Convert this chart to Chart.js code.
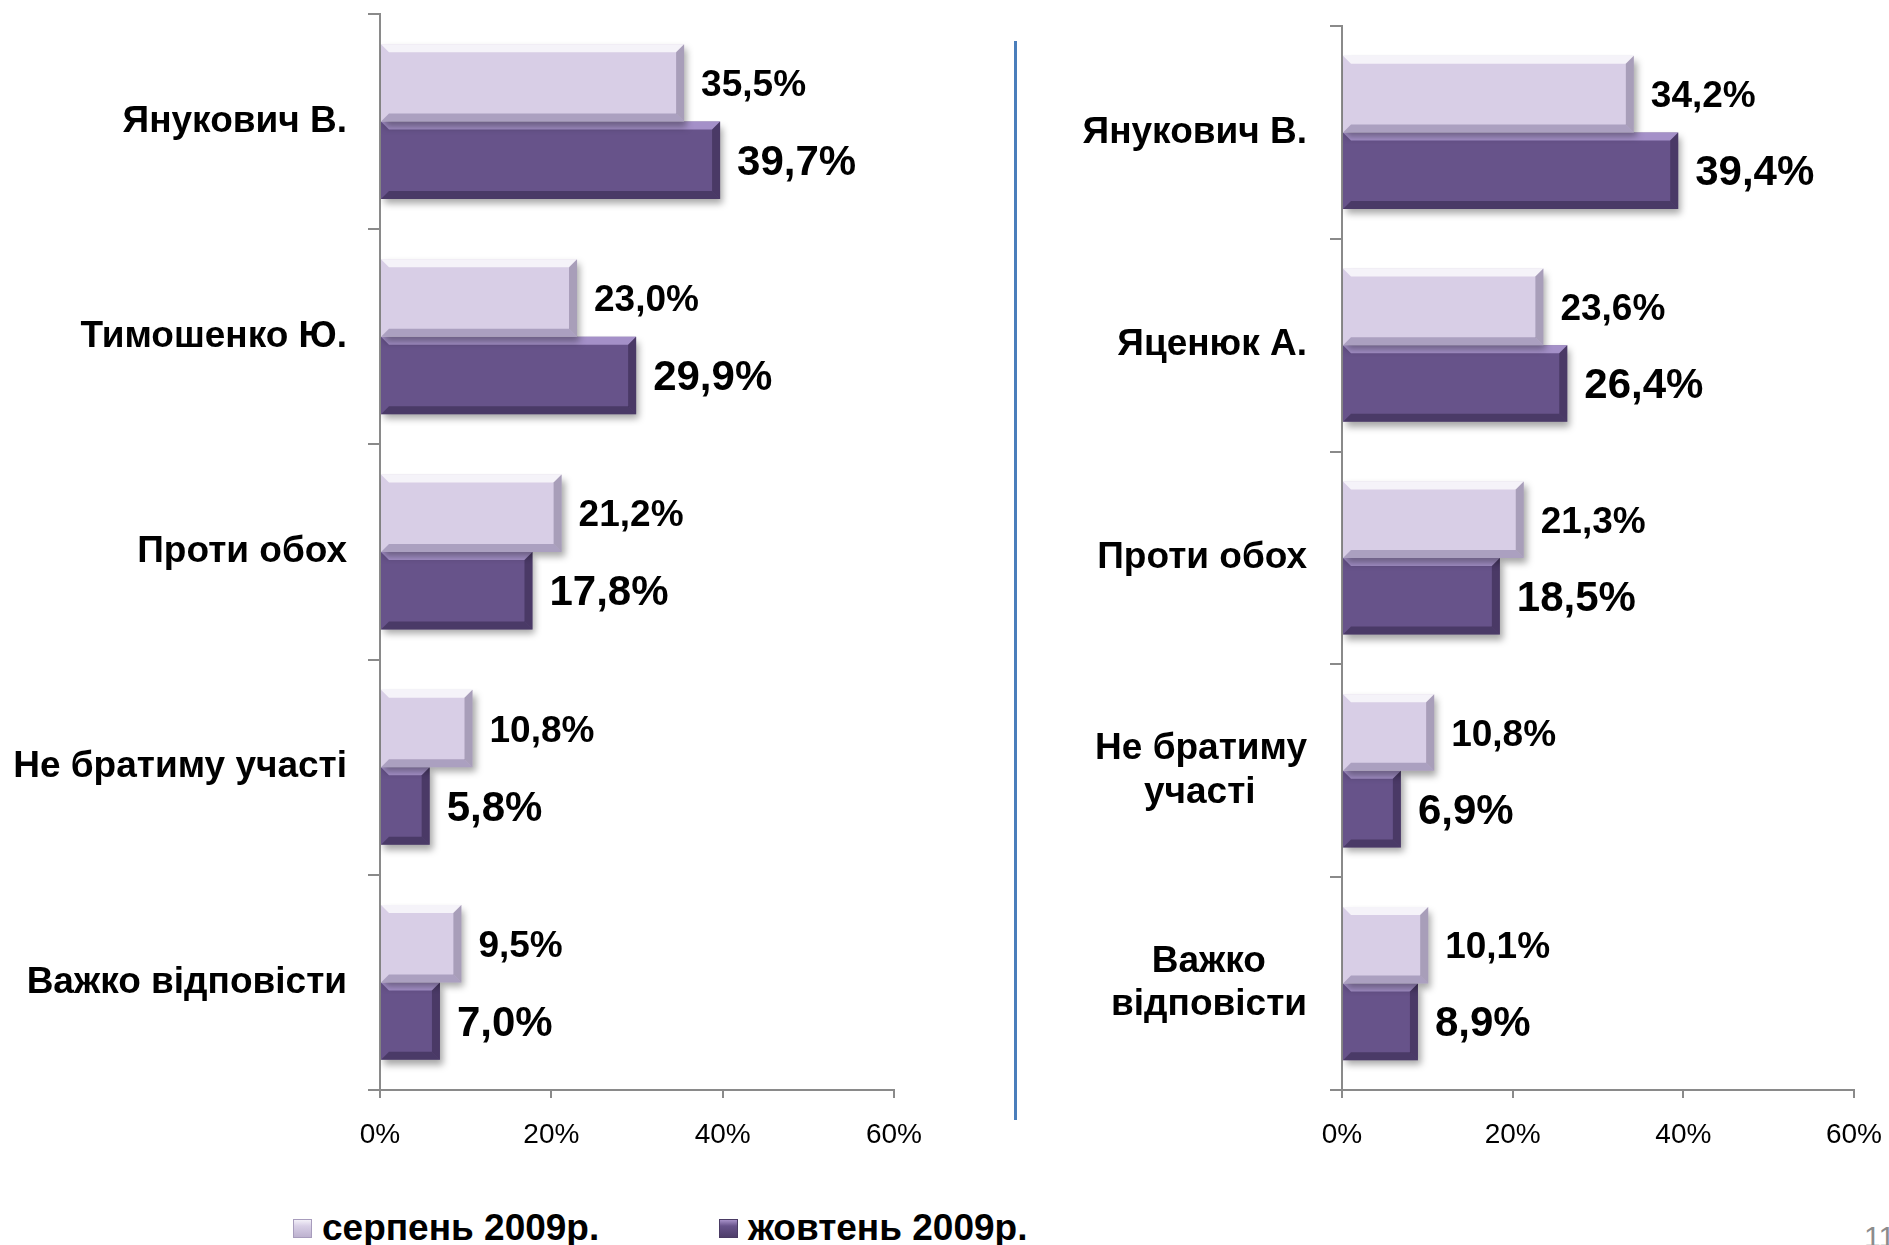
<!DOCTYPE html>
<html lang="uk">
<head>
<meta charset="utf-8">
<script src="https://cdn.jsdelivr.net/npm/chart.js@4.4.1/dist/chart.umd.min.js"></script>
<style>
  html, body { margin: 0; padding: 0; background: #fff; }
  body { width: 1889px; height: 1245px; overflow: hidden; position: relative;
         font-family: "Liberation Sans", Arial, sans-serif; }
  #leftBox  { position: absolute; left: 0;     top: 0; width: 940px; height: 1200px; }
  #rightBox { position: absolute; left: 960px; top: 0; width: 929px; height: 1200px; }
  .sep { position: absolute; left: 1014px; top: 41px; width: 3px; height: 1079px; background: #4a7ebb; }
  .leg { position: absolute; top: 1210px; display: flex; align-items: center;
         font-weight: bold; font-size: 37px; line-height: 36px; color: #000; }
  .leg .box { width: 19px; height: 19px; margin-right: 10px; box-sizing: border-box; }
  .leg .aug { background: linear-gradient(#f3f0f8, #d8cfe6 35%, #bdb2cf); border: 1px solid #a79cbc; }
  .leg .oct { background: linear-gradient(#a791c8, #68538b 35%, #4e3e6a); border: 1px solid #4a3b64; }
  .page { position: absolute; left: 1864px; top: 1220px; font-size: 30px; color: #8c8c8c; }
</style>
</head>
<body>
<div id="leftBox"><canvas id="chartLeft"></canvas></div>
<div class="sep"></div>
<div id="rightBox"><canvas id="chartRight"></canvas></div>
<div class="leg" style="left:293px"><span class="box aug"></span>серпень 2009р.</div>
<div class="leg" style="left:719px"><span class="box oct"></span>жовтень 2009р.</div>
<div class="page">11</div>
<script>
// data
var seriesNames = ["серпень 2009р.", "жовтень 2009р."];

var leftLabels = ["Янукович В.", "Тимошенко Ю.", "Проти обох", "Не братиму участі", "Важко відповісти"];
var leftAug = [35.5, 23.0, 21.2, 10.8, 9.5];
var leftOct = [39.7, 29.9, 17.8, 5.8, 7.0];

var rightLabels = ["Янукович В.", "Яценюк А.", "Проти обох", ["Не братиму", "участі"], ["Важко", "відповісти"]];
var rightAug = [34.2, 23.6, 21.3, 10.8, 10.1];
var rightOct = [39.4, 26.4, 18.5, 6.9, 8.9];

var xTicks = [0, 20, 40, 60];

// styles
var FONT = '"Liberation Sans", Arial, sans-serif';
var CAT_SIZE = 37;
var barColors = ["#d8cee6", "#67538a"];
var bevelTop = ["rgba(255,255,255,0.75)", "rgba(180,160,215,0.8)"];
var bevelBottom = ["rgba(90,75,120,0.35)", "rgba(40,28,60,0.45)"];
var bevelRight = ["rgba(110,100,130,0.45)", "rgba(45,32,66,0.5)"];
var valueFontSize = [37, 42];

function fmt(v) {
  return v.toFixed(1).replace(".", ",") + "%";
}

var measureCtx = document.createElement("canvas").getContext("2d");
function centerLines(label) {
  if (!Array.isArray(label)) return label;
  measureCtx.font = "bold " + CAT_SIZE + "px " + FONT;
  var sp = measureCtx.measureText(" ").width;
  var widths = label.map(function (s) { return measureCtx.measureText(s).width; });
  var max = Math.max.apply(null, widths);
  return label.map(function (s, i) {
    return s + " ".repeat(Math.round((max - widths[i]) / 2 / sp));
  });
}

function poly(ctx, pts, color) {
  ctx.beginPath();
  ctx.moveTo(pts[0][0], pts[0][1]);
  for (var i = 1; i < pts.length; i++) ctx.lineTo(pts[i][0], pts[i][1]);
  ctx.closePath();
  ctx.fillStyle = color;
  ctx.fill();
}

var barFx = {
  id: "barFx",
  beforeDatasetDraw: function (chart) {
    var ctx = chart.ctx;
    ctx.save();
    ctx.shadowColor = "rgba(0,0,0,0.35)";
    ctx.shadowBlur = 7;
    ctx.shadowOffsetX = 3;
    ctx.shadowOffsetY = 5;
  },
  afterDatasetDraw: function (chart, args) {
    var ctx = chart.ctx;
    ctx.restore();
    var k = args.index;
    args.meta.data.forEach(function (bar) {
      var p = bar.getProps(["x", "y", "base", "height"], true);
      var l = p.base, r = p.x, t = p.y - p.height / 2, b = p.y + p.height / 2;
      var e = Math.min(8, (r - l) / 2);
      poly(ctx, [[l, t], [r, t], [r - e, t + e], [l + e, t + e]], bevelTop[k]);
      poly(ctx, [[l, b], [l + e, b - e], [r - e, b - e], [r, b]], bevelBottom[k]);
      poly(ctx, [[r, t], [r, b], [r - e, b - e], [r - e, t + e]], bevelRight[k]);
    });
  },
  afterDatasetsDraw: function (chart) {
    var ctx = chart.ctx;
    ctx.save();
    ctx.fillStyle = "#000";
    ctx.textAlign = "left";
    ctx.textBaseline = "middle";
    chart.data.datasets.forEach(function (ds, k) {
      ctx.font = "bold " + valueFontSize[k] + "px " + FONT;
      chart.getDatasetMeta(k).data.forEach(function (bar, i) {
        var p = bar.getProps(["x", "y"], true);
        ctx.fillText(fmt(ds.data[i]), p.x + 17, p.y + 3);
      });
    });
    ctx.restore();
  }
};

function makeChart(id, labels, aug, oct, pad, axisWidth, labelPad) {
  return new Chart(id, {
    type: "bar",
    data: {
      labels: labels,
      datasets: [{
        label: seriesNames[0],
        data: aug,
        backgroundColor: barColors[0],
        borderWidth: 0
      }, {
        label: seriesNames[1],
        data: oct,
        backgroundColor: barColors[1],
        borderWidth: 0
      }]
    },
    options: {
      indexAxis: "y",
      responsive: true,
      maintainAspectRatio: false,
      animation: false,
      events: [],
      categoryPercentage: 0.72,
      barPercentage: 1.0,
      layout: { padding: pad },
      plugins: {
        legend: { display: false },
        tooltip: { enabled: false }
      },
      scales: {
        x: {
          min: 0,
          max: 60,
          afterBuildTicks: function (scale) {
            scale.ticks = xTicks.map(function (v) { return { value: v }; });
          },
          afterFit: function (scale) {
            scale.height = 110;
            scale.paddingLeft = 0;
            scale.paddingRight = 0;
          },
          grid: { drawOnChartArea: false, tickLength: 8, color: "#8a8a8a", lineWidth: 2 },
          border: { color: "#8a8a8a", width: 2 },
          ticks: {
            padding: 20,
            color: "#000",
            font: { family: FONT, size: 28 },
            callback: function (v) { return v + "%"; }
          }
        },
        y: {
          afterFit: function (scale) {
            scale.width = axisWidth;
            scale.paddingTop = 0;
            scale.paddingBottom = 0;
          },
          grid: { drawOnChartArea: false, tickLength: 12, color: "#8a8a8a", lineWidth: 2 },
          border: { color: "#8a8a8a", width: 2 },
          ticks: {
            padding: labelPad,
            color: "#000",
            autoSkip: false,
            font: { family: FONT, size: CAT_SIZE, weight: "bold", lineHeight: 1.17 },
            callback: function (v) { return centerLines(this.getLabelForValue(v)); }
          }
        }
      }
    },
    plugins: [barFx]
  });
}

makeChart("chartLeft", leftLabels, leftAug, leftOct,
  { top: 14, right: 46, bottom: 0, left: 0 }, 380, 21);
makeChart("chartRight", rightLabels, rightAug, rightOct,
  { top: 26, right: 35, bottom: 0, left: 0 }, 382, 23);
</script>
</body>
</html>
